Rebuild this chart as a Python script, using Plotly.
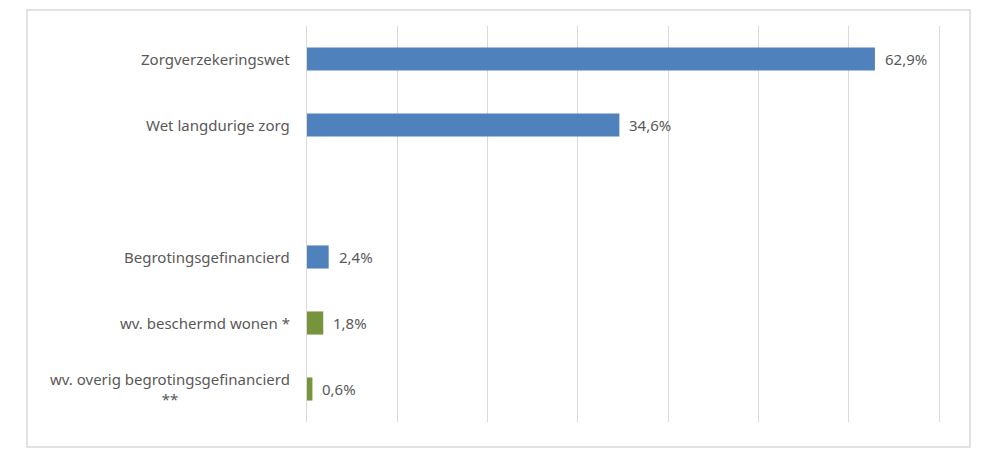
import plotly.graph_objects as go

categories = ["Zorgverzekeringswet", "Wet langdurige zorg", " ", "Begrotingsgefinancierd",
              "wv. beschermd wonen *", "wv. overig begrotingsgefinancierd<br>**"]
values = [62.9, 34.6, None, 2.4, 1.8, 0.6]
labels = ["62,9%", "34,6%", "", "2,4%", "1,8%", "0,6%"]
colors = ["#4F81BD", "#4F81BD", "#4F81BD", "#4F81BD", "#77933C", "#77933C"]
x_ticks = [0, 10, 20, 30, 40, 50, 60, 70]

FONT = "Noto Sans"
TXT = "#595959"

fig = go.Figure()
fig.add_trace(go.Bar(
    y=list(range(len(categories))), x=values, orientation="h",
    marker=dict(color=colors, line=dict(width=0)),
    width=0.35, hoverinfo="skip",
))

annotations = []
for i, (c, v, lab) in enumerate(zip(categories, values, labels)):
    if c.strip():
        annotations.append(dict(
            x=0, xref="x", y=i, yref="y", text=c, showarrow=False,
            xanchor="right", yanchor="middle", align="center", xshift=-15,
            font=dict(family=FONT, size=15, color=TXT)))
    if v is not None:
        annotations.append(dict(
            x=v, xref="x", y=i, yref="y", text=lab, showarrow=False,
            xanchor="left", yanchor="middle", xshift=8,
            font=dict(family=FONT, size=15, color=TXT)))

W, H = 985, 458
L, R, T, B = 307, 46, 26, 36
pw, ph = W - L - R, H - T - B

def px(xp):
    return (xp - L) / pw

def py(yp):
    return (H - B - yp) / ph

fig.update_layout(
    width=W, height=H,
    margin=dict(l=L, r=R, t=T, b=B),
    paper_bgcolor="white", plot_bgcolor="white",
    showlegend=False,
    xaxis=dict(range=[0, 70], tickvals=x_ticks, showticklabels=False,
               showgrid=True, gridcolor="#D9D9D9", gridwidth=1,
               zeroline=False, showline=False, fixedrange=True),
    yaxis=dict(range=[len(categories) - 0.5, -0.5], showticklabels=False,
               showgrid=False, zeroline=False, showline=True, mirror=True,
               linecolor="#D9D9D9", linewidth=1, fixedrange=True),
    annotations=annotations,
    shapes=[dict(type="rect", xref="paper", yref="paper",
                 x0=px(27), x1=px(970), y0=py(447), y1=py(10),
                 line=dict(color="#D9D9D9", width=1.5), layer="below")],
)

fig.write_html("out.html", config={"displayModeBar": False})
